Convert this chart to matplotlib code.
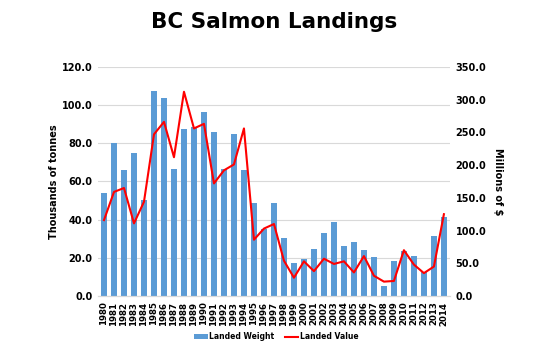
import matplotlib.pyplot as plt
import numpy as np

# BC salmon landings
years = [str(y) for y in range(1980, 2015)]
landed_weight = [53.7, 80.0, 65.8, 74.7, 50.3, 107.5, 103.8, 66.7, 87.4, 88.5,
                 96.3, 85.7, 66.3, 85.0, 66.0, 48.7, 35.3, 48.7, 30.4, 17.1,
                 19.4, 24.6, 33.2, 38.6, 26.0, 28.1, 24.3, 20.2, 5.2, 18.5,
                 23.7, 20.8, 12.7, 31.6, 41.5]
landed_value = [116, 159, 165, 111, 144, 247, 266, 212, 312, 256,
                263, 172, 192, 201, 256, 86, 103, 110, 54, 28,
                53, 38, 57, 49, 53, 36, 61, 31, 22, 23,
                70, 48, 35, 45, 125]

fig = plt.figure(figsize=(5.49, 3.52), dpi=100)
ax = fig.add_axes([0.1785, 0.159, 0.641, 0.651])
ax2 = ax.twinx()

x = np.arange(len(years))
ax.bar(x, landed_weight, width=0.6, color='#5B9BD5', label='Landed Weight', zorder=2)
ax2.plot(x, landed_value, color='#FF0000', linewidth=1.5, label='Landed Value')

ax.set_xlim(-0.6, len(years) - 0.4)
ax.set_ylim(0, 120)
ax.set_yticks(np.arange(0, 121, 20))
ax.set_yticklabels([f'{v:.1f}' for v in np.arange(0, 121, 20)],
                   fontsize=7, fontweight='bold')
ax2.set_ylim(0, 350)
ax2.set_yticks(np.arange(0, 351, 50))
ax2.set_yticklabels([f'{v:.1f}' for v in np.arange(0, 351, 50)],
                    fontsize=7, fontweight='bold')
ax.set_xticks(x)
ax.set_xticklabels(years, rotation=90, fontsize=6.2, fontweight='bold')

ax.grid(axis='y', color='#D9D9D9', linewidth=0.8, zorder=0)
ax.set_axisbelow(True)
for a in (ax, ax2):
    for s in ('top', 'left', 'right'):
        a.spines[s].set_visible(False)
    a.spines['bottom'].set_color('#D9D9D9')
    a.tick_params(length=0, pad=4)

ax.set_ylabel('Thousands of tonnes', fontsize=7, fontweight='bold', labelpad=2)
ax2.set_ylabel('Millions of $', fontsize=7, fontweight='bold', rotation=-90,
               labelpad=12)

fig.suptitle('BC Salmon Landings', fontsize=15.5, fontweight='bold', y=0.965)

h1, l1 = ax.get_legend_handles_labels()
h2, l2 = ax2.get_legend_handles_labels()
fig.legend(h1 + h2, l1 + l2, loc='center', bbox_to_anchor=(0.503, 0.043), ncol=2,
           frameon=False, prop={'size': 5.5, 'weight': 'bold'},
           handlelength=1.8, handleheight=0.5, handletextpad=0.15,
           columnspacing=1.4)

fig.savefig('out.png', dpi=100)
